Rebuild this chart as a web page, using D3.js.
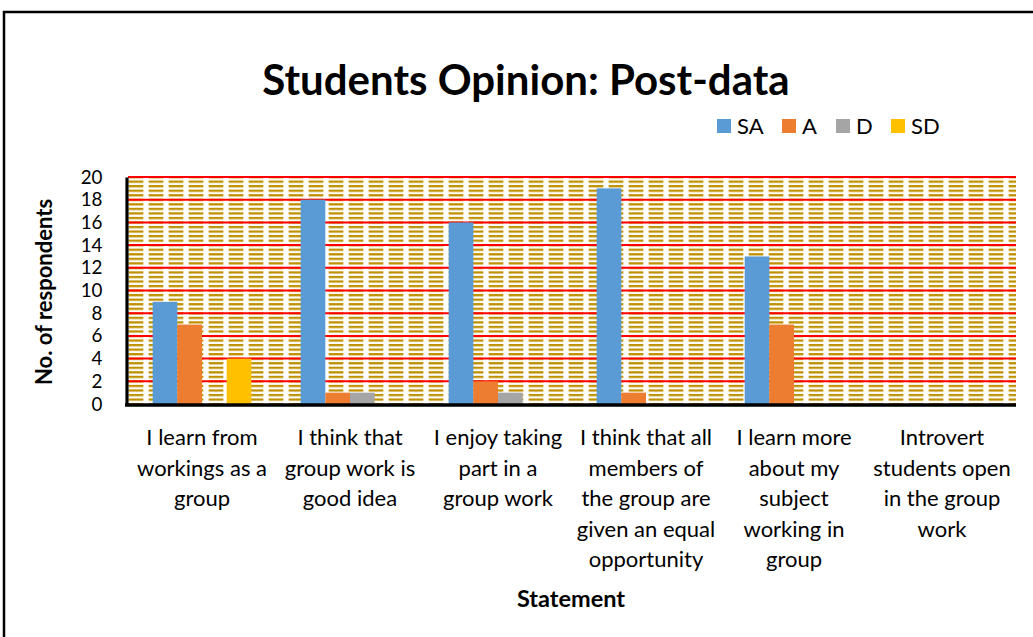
<!DOCTYPE html>
<html><head><meta charset="utf-8">
<script src="https://cdn.jsdelivr.net/npm/d3@7"></script>
<style>html,body{margin:0;padding:0;background:#fff;}svg{display:block;font-family:Lato,"Open Sans",sans-serif;}</style>
</head><body>
<script>
const categories = [
  "I learn from workings as a group",
  "I think that group work is good idea",
  "I enjoy taking part in a group work",
  "I think that all members of the group are given an equal opportunity",
  "I learn more about my subject working in group",
  "Introvert students open in the group work"
];
const categoryLines = [
  ["I learn from", "workings as a", "group"],
  ["I think that", "group work is", "good idea"],
  ["I enjoy taking", "part in a", "group work"],
  ["I think that all", "members of", "the group are", "given an equal", "opportunity"],
  ["I learn more", "about my", "subject", "working in", "group"],
  ["Introvert", "students open", "in the group", "work"]
];
const seriesNames = ["SA", "A", "D", "SD"];
const SA = [9, 18, 16, 19, 13, 0];
const A  = [7, 1, 2, 1, 7, 0];
const D  = [0, 1, 1, 0, 0, 0];
const SD = [4, 0, 0, 0, 0, 0];
const yTicks = [0, 2, 4, 6, 8, 10, 12, 14, 16, 18, 20];
const colors = ["#5B9BD5", "#ED7D31", "#A5A5A5", "#FFC000"];
const title = "Students Opinion: Post-data";
const yTitle = "No. of respondents";
const xTitle = "Statement";

const series = [SA, A, D, SD];
const W = 1033, H = 637;
const m = {left: 128, right: 1016, top: 177, bottom: 404};
const FONT = "Lato, 'Open Sans', sans-serif";

const svg = d3.select("body").append("svg").attr("width", W).attr("height", H);
svg.append("rect").attr("x", 4).attr("y", 12).attr("width", W + 20).attr("height", H + 20)
  .attr("fill", "#fff").attr("stroke", "#000").attr("stroke-width", 2.5);

const x0 = d3.scaleBand().domain(d3.range(categories.length)).range([m.left, m.right]);
const step = x0.step();
const x1 = d3.scaleBand().domain(d3.range(seriesNames.length)).range([step / 6, step * 5 / 6]);
const y = d3.scaleLinear().domain([0, 20]).range([m.bottom, m.top]);

const gridH = y(0) - y(2);
const defs = svg.append("defs");
const pat = defs.append("pattern").attr("id", "dash").attr("patternUnits", "userSpaceOnUse")
  .attr("x", m.left).attr("y", m.top - 1).attr("width", 20).attr("height", gridH / 5);
pat.append("rect").attr("x", 1).attr("y", 0).attr("width", 14).attr("height", 2.2).attr("fill", "#BF9000");
pat.append("rect").attr("x", 0).attr("y", 0).attr("width", 16).attr("height", 2.2).attr("fill", "#BF9000").attr("opacity", 0.35);

svg.append("rect").attr("x", m.left).attr("y", m.top).attr("width", m.right - m.left)
  .attr("height", m.bottom - m.top).attr("fill", "url(#dash)");

// gridlines
svg.append("g").selectAll("line").data(yTicks.filter(d => d > 0)).join("line")
  .attr("x1", m.left).attr("x2", m.right).attr("y1", d => y(d)).attr("y2", d => y(d))
  .attr("stroke", "#FF0000").attr("stroke-width", 2);

// bars
const groups = svg.append("g").selectAll("g").data(categories).join("g")
  .attr("transform", (d, i) => `translate(${x0(i)},0)`);
groups.selectAll("rect").data((d, i) => series.map((s, k) => ({k, v: s[i]}))).join("rect")
  .attr("x", d => x1(d.k)).attr("width", x1.bandwidth())
  .attr("y", d => y(d.v)).attr("height", d => y(0) - y(d.v))
  .attr("fill", d => colors[d.k]);

// axes
const yAxis = svg.append("g").attr("transform", `translate(${m.left - 1.5},0)`)
  .call(d3.axisLeft(y).tickValues(yTicks).tickSize(0).tickPadding(24));
yAxis.select(".domain").attr("stroke", "#000").attr("stroke-width", 3.2);
yAxis.selectAll("text").attr("font-size", 18.8).attr("fill", "#000").attr("font-family", FONT);

const xAxis = svg.append("g").attr("transform", `translate(0,${m.bottom + 1})`)
  .call(d3.axisBottom(x0).tickSize(0).tickFormat(""));
xAxis.select(".domain").attr("stroke", "#000").attr("stroke-width", 3.5).attr("d", `M${m.left - 3},0H${m.right}`);
xAxis.selectAll(".tick").each(function(d, i) {
  const t = d3.select(this).append("text").attr("text-anchor", "middle").attr("fill", "#000")
    .attr("font-family", FONT).attr("font-size", 22).attr("y", 40);
  categoryLines[i].forEach((ln, j) => t.append("tspan").attr("x", 0).attr("dy", j === 0 ? 0 : 30.6).text(ln));
});

// titles
svg.append("text").attr("x", 526).attr("y", 95).attr("text-anchor", "middle")
  .attr("font-size", 42).attr("font-weight", "bold").text(title);
svg.append("text").attr("transform", "translate(52,292) rotate(-90)").attr("text-anchor", "middle")
  .attr("font-size", 22).attr("font-weight", "bold").text(yTitle);
svg.append("text").attr("x", 571).attr("y", 607).attr("text-anchor", "middle")
  .attr("font-size", 23.5).attr("font-weight", "bold").text(xTitle);

// legend
const legX = [717, 782, 836, 891];
const leg = svg.append("g").selectAll("g").data(seriesNames).join("g")
  .attr("transform", (d, i) => `translate(${legX[i]},119)`);
leg.append("rect").attr("width", 14).attr("height", 14).attr("fill", (d, i) => colors[i]);
leg.append("text").attr("x", 20).attr("y", 15).attr("font-size", 22).text(d => d);
</script>
</body></html>
